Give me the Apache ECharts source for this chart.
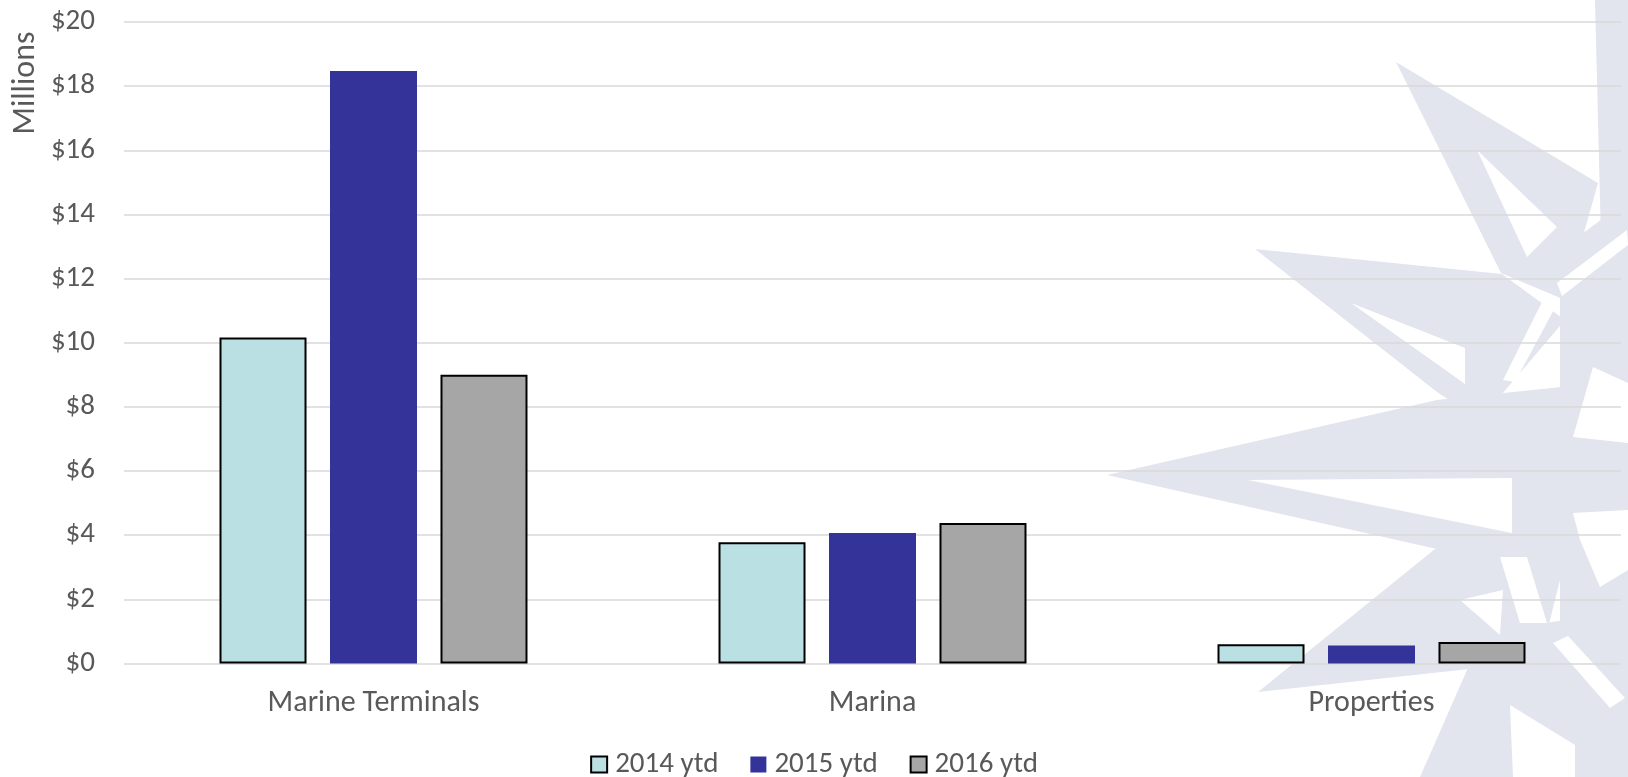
<!DOCTYPE html>
<html>
<head>
<meta charset="utf-8">
<script src="https://cdn.jsdelivr.net/npm/echarts@6/dist/echarts.min.js"></script>
<style>
  html, body { margin: 0; padding: 0; background: #fff; }
  #chart { width: 1628px; height: 777px; }
</style>
</head>
<body>
<div id="chart"></div>
<script>
// categories and series values (millions of dollars)
const categories = ['Marine Terminals', 'Marina', 'Properties'];
const seriesNames = ['2014 ytd', '2015 ytd', '2016 ytd'];
const ytd2014 = [10.16, 3.78, 0.6];
const ytd2015 = [18.47, 4.07, 0.56];
const ytd2016 = [9.0, 4.38, 0.67];
const yTicks = [0, 2, 4, 6, 8, 10, 12, 14, 16, 18, 20];

const FONT = 'Carlito, "Open Sans", sans-serif';
const TEXT = '#595959';
const STAR = '#e2e5ee';

// compass watermark behind the plot (decoration only)
const starShapes = [
  [[1396, 62], [1598, 183], [1565, 300], [1501, 273]],
  [[1595, 0], [1628, 0], [1628, 320], [1603, 320]],
  [[1255, 249], [1502, 274], [1565, 320], [1480, 420], [1437, 392]],
  [[1107, 475], [1437, 400], [1628, 380], [1628, 575], [1437, 549]],
  [[1258, 692], [1440, 545], [1565, 560], [1545, 640], [1497, 666]],
  [[1420, 777], [1467, 670], [1500, 630], [1565, 620], [1565, 777]],
  [[1560, 250], [1628, 200], [1628, 777], [1560, 777]]
];
const starGaps = [
  [[1477, 150], [1557, 227], [1527, 257]],
  [[1351, 303], [1465, 348], [1465, 384]],
  [[1248, 480], [1512, 478], [1512, 533]],
  [[1557, 283], [1627, 230], [1628, 245], [1562, 296]],
  [[1543, 300], [1557, 304], [1515, 382], [1503, 380]],
  [[1593, 367], [1628, 383], [1628, 443], [1573, 437]],
  [[1500, 557], [1527, 557], [1547, 623], [1520, 623]],
  [[1553, 643], [1568, 636], [1625, 698], [1610, 708]],
  [[1573, 513], [1628, 510], [1628, 570], [1600, 587], [1580, 540]],
  [[1460, 600], [1503, 590], [1500, 635]],
  [[1510, 705], [1575, 745], [1575, 777], [1513, 777]]
];

const graphics = [];
starShapes.forEach(function (pts) {
  graphics.push({ type: 'polygon', z: -100, silent: true, shape: { points: pts }, style: { fill: STAR } });
});
starGaps.forEach(function (pts) {
  graphics.push({ type: 'polygon', z: -99, silent: true, shape: { points: pts }, style: { fill: '#ffffff' } });
});
graphics.push({
  type: 'text',
  x: 26,
  y: 83,
  rotation: Math.PI / 2,
  style: {
    text: 'Millions',
    fill: TEXT,
    font: '32px ' + FONT,
    textAlign: 'center',
    textVerticalAlign: 'middle'
  }
});

const chart = echarts.init(document.getElementById('chart'), null, { renderer: 'canvas' });

let option = {
  backgroundColor: 'transparent',
  animation: false,
  textStyle: { fontFamily: FONT },
  graphic: graphics,
  legend: {
    data: seriesNames,
    left: 'center',
    top: 745,
    itemWidth: 16,
    itemHeight: 16,
    itemGap: 32,
    icon: 'rect',
    textStyle: { fontSize: 29, color: TEXT, fontFamily: FONT, padding: [0, 0, 0, 3] }
  },
  grid: {
    left: 124,
    right: 7,
    top: 22,
    bottom: 113.5,
    containLabel: false
  },
  xAxis: {
    type: 'category',
    data: categories,
    axisLine: { show: false },
    axisTick: { show: false },
    axisLabel: { fontSize: 30, color: TEXT, margin: 25, fontFamily: FONT }
  },
  yAxis: {
    type: 'value',
    min: yTicks[0],
    max: yTicks[yTicks.length - 1],
    interval: 2,
    axisLine: { show: false },
    axisTick: { show: false },
    splitLine: { lineStyle: { color: '#d9d9d9', width: 1.5 } },
    axisLabel: {
      fontSize: 29,
      color: TEXT,
      margin: 29,
      fontFamily: FONT,
      formatter: function (v) { return '$' + v; }
    }
  },
  series: [
    {
      name: seriesNames[0],
      type: 'bar',
      data: ytd2014,
      barWidth: 87,
      barGap: '27%',
      itemStyle: { color: '#bbe0e3', borderColor: '#000', borderWidth: 2 }
    },
    {
      name: seriesNames[1],
      type: 'bar',
      data: ytd2015,
      barWidth: 87,
      barGap: '27%',
      itemStyle: { color: '#333399' }
    },
    {
      name: seriesNames[2],
      type: 'bar',
      data: ytd2016,
      barWidth: 87,
      barGap: '27%',
      itemStyle: { color: '#a6a6a6', borderColor: '#000', borderWidth: 2 }
    }
  ]
};
chart.setOption(option);
</script>
</body>
</html>
